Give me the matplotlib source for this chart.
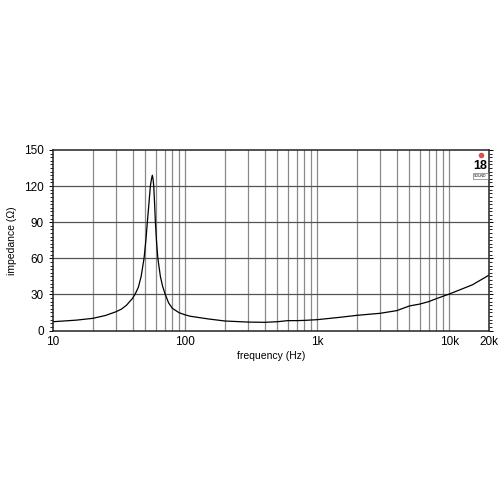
import numpy as np
import matplotlib
matplotlib.use('Agg')
from matplotlib import pyplot as plt
from matplotlib.ticker import FixedLocator, MultipleLocator, NullFormatter

plt.rcParams['font.family'] = ['Liberation Sans', 'DejaVu Sans']

# impedance curve
freq = [10, 15, 20, 25, 30, 33, 36, 40, 42, 44.3, 46.5, 48.9, 50.5, 51.8, 53.2,
        54.6, 55.7, 56.5, 57.2, 57.9, 58.8, 59.6, 60.8, 62.2, 65, 67.5, 70.5,
        75, 80, 90, 100, 110, 150, 200, 300, 400, 500, 600, 700, 800, 1000,
        1500, 2000, 3000, 4000, 5000, 6000, 7000, 8000, 10000, 15000, 20000]
imped = [7.3, 8.6, 10.1, 12.5, 15.6, 17.8, 21, 26.7, 30.5, 36, 45, 60, 75, 90, 105,
         120, 126, 129, 126, 120, 105, 90, 74, 60, 45, 37, 30.5,
         23, 18.5, 14.8, 13, 11.8, 9.6, 7.9, 7.0, 6.8, 7.3, 8.2, 8.2, 8.4, 9.0,
         11, 12.6, 14.3, 16.5, 20.4, 22, 24, 26.5, 30.3, 38, 46]

xticks_pos = [10, 100, 1000, 10000, 20000]
xticks_label = ['10', '100', '1k', '10k', '20k']
yticks_pos = [0, 30, 60, 90, 120, 150]

fig = plt.figure(figsize=(5, 5), dpi=100)
ax = fig.add_axes([0.106, 0.339, 0.872, 0.361])

ax.plot(freq, imped, color='black', lw=0.9)

ax.set_xscale('log')
ax.set_xlim(10, 20000)
ax.set_ylim(0, 150)

grid_x = [m * 10**e for e in range(1, 5) for m in range(1, 10)]
grid_x = [g for g in grid_x if 10 < g < 20000]
for g in grid_x:
    ax.axvline(g, color='#8a8a8a', lw=0.9, zorder=0)
for g in yticks_pos[1:-1]:
    ax.axhline(g, color='#555555', lw=0.9, zorder=0)

ax.xaxis.set_major_locator(FixedLocator(xticks_pos))
ax.set_xticklabels(xticks_label)
ax.xaxis.set_minor_locator(FixedLocator([]))
ax.xaxis.set_minor_formatter(NullFormatter())
ax.tick_params(axis='x', which='major', length=0, pad=4, labelsize=8.5)

ax.set_yticks(yticks_pos)
ax.yaxis.set_minor_locator(MultipleLocator(3))
ax.tick_params(axis='y', which='major', length=3, width=0.7, labelsize=8.5,
               left=True, right=True, direction='out')
ax.tick_params(axis='y', which='minor', length=2, width=0.6,
               left=True, right=True, direction='out')

for s in ax.spines.values():
    s.set_linewidth(1.1)
    s.set_color('#222222')

ax.set_xlabel('frequency (Hz)', fontsize=7.5, labelpad=2)
ax.set_ylabel('impedance (Ω)', fontsize=7.5, labelpad=5)

# little brand mark in the corner
fig.add_artist(plt.Line2D([0.961], [0.690], marker='o', markersize=3,
                          color='#d9534f', transform=fig.transFigure))
fig.text(0.961, 0.668, '18', color='black', fontsize=9, fontweight='bold',
         ha='center', va='center')
fig.text(0.961, 0.648, 'SOUND', color='black', fontsize=2.5, ha='center', va='center',
         bbox=dict(facecolor='white', edgecolor='#555555', lw=0.4, pad=0.6))

plt.savefig('out.png', dpi=100)
